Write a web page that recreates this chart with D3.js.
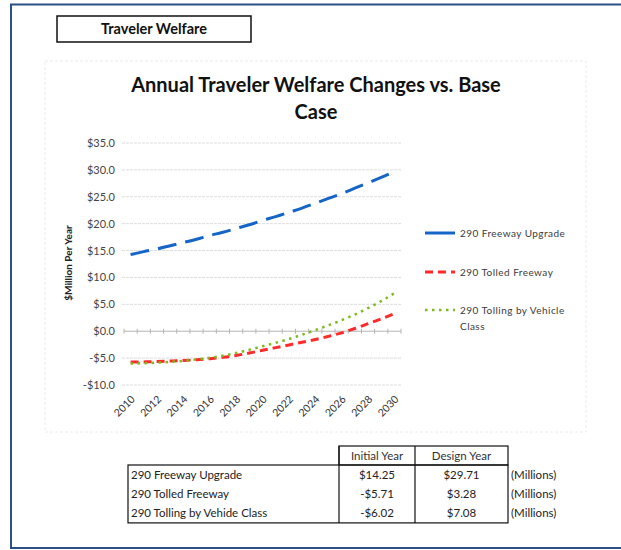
<!DOCTYPE html>
<html>
<head>
<meta charset="utf-8">
<script src="https://cdn.jsdelivr.net/npm/d3@7"></script>
<style>
  body { margin: 0; background: #fff; }
  svg text { font-family: Lato, "Open Sans", sans-serif; }
</style>
</head>
<body>
<div id="chart-area"></div>
<script>
// Data
const years = d3.range(2010, 2031);
const freewayUpgrade = [14.25, 14.8, 15.3, 15.9, 16.5, 17.1, 17.8, 18.4, 19.1, 19.8, 20.6, 21.3, 22.1, 22.9, 23.8, 24.7, 25.6, 26.6, 27.6, 28.6, 29.71];
const tolledFreeway = [-5.71, -5.7, -5.65, -5.55, -5.45, -5.3, -5.1, -4.85, -4.5, -4.05, -3.55, -3.05, -2.55, -2.05, -1.55, -0.95, -0.3, 0.5, 1.4, 2.3, 3.28];
const tollingByClass = [-6.02, -5.95, -5.85, -5.7, -5.5, -5.25, -4.95, -4.55, -4.05, -3.45, -2.8, -2.15, -1.45, -0.65, 0.2, 1.1, 2.05, 3.1, 4.3, 5.6, 7.08];
const yTicks = [-10, -5, 0, 5, 10, 15, 20, 25, 30, 35];
const xLabelYears = [2010, 2012, 2014, 2016, 2018, 2020, 2022, 2024, 2026, 2028, 2030];

const seriesNames = ["290 Freeway Upgrade", "290 Tolled Freeway", "290 Tolling by Vehicle Class"];
const tableRows = ["290 Freeway Upgrade", "290 Tolled Freeway", "290 Tolling by Vehide Class"];
const tableHeaders = ["Initial Year", "Design Year"];
const initialYear = ["$14.25", "-$5.71", "-$6.02"];
const designYear = ["$29.71", "$3.28", "$7.08"];

const series = [
    { name: seriesNames[0], values: freewayUpgrade, color: "#1565c8", dash: "19,9", width: 3 },
    { name: seriesNames[1], values: tolledFreeway, color: "#ff2a2a", dash: "8,5", width: 3 },
    { name: seriesNames[2], values: tollingByClass, color: "#7cbb1e", dash: "2.5,4.5", width: 2.5 }
];

const svg = d3.select("#chart-area")
    .append("svg")
    .attr("width", 621)
    .attr("height", 550);

// Outer frame (right side runs off the page)
svg.append("rect")
    .attr("x", 11).attr("y", 4.5)
    .attr("width", 630).attr("height", 543.5)
    .attr("fill", "none")
    .attr("stroke", "#2c4f85")
    .attr("stroke-width", 2);

// Section label box
svg.append("rect")
    .attr("x", 57).attr("y", 16)
    .attr("width", 194).attr("height", 26)
    .attr("fill", "#fff")
    .attr("stroke", "#111")
    .attr("stroke-width", 1.5);

svg.append("text")
    .attr("x", 154).attr("y", 34)
    .attr("text-anchor", "middle")
    .style("font-size", "14.5px")
    .style("font-weight", "bold")
    .attr("fill", "#111")
    .text("Traveler Welfare");

// Chart area
svg.append("rect")
    .attr("x", 45).attr("y", 61)
    .attr("width", 541).attr("height", 371)
    .attr("fill", "#fff")
    .attr("stroke", "#ececec")
    .attr("stroke-dasharray", "3,2");

// Chart title
const title = svg.append("text")
    .attr("text-anchor", "middle")
    .style("font-size", "20px")
    .style("font-weight", "bold")
    .attr("fill", "#111");
title.append("tspan").attr("x", 316).attr("y", 92).text("Annual Traveler Welfare Changes vs. Base");
title.append("tspan").attr("x", 316).attr("y", 119).text("Case");

// Scales
const xBand = d3.scaleBand()
    .domain(years)
    .range([124, 401]);

const x = d => xBand(d) + xBand.bandwidth() / 2;

const y = d3.scaleLinear()
    .domain([-10, 35])
    .range([385, 143]);

// Gridlines
svg.append("g")
    .selectAll("line")
    .data(yTicks.filter(d => d !== 0))
    .enter().append("line")
    .attr("x1", 122).attr("x2", 401)
    .attr("y1", d => y(d)).attr("y2", d => y(d))
    .attr("stroke", "#dcdcdc")
    .attr("stroke-dasharray", "3,1");

// Y axis labels
const yAxis = svg.append("g")
    .attr("transform", "translate(118,0)")
    .call(d3.axisLeft(y).tickValues(yTicks).tickSize(0).tickPadding(3)
        .tickFormat(d => (d < 0 ? "-$" : "$") + Math.abs(d).toFixed(1)));
yAxis.select(".domain").remove();
yAxis.selectAll("text")
    .style("font-size", "11px")
    .style("font-family", "Lato, sans-serif")
    .attr("fill", "#444");

// Zero line with cross ticks between categories
svg.append("line")
    .attr("x1", 124).attr("x2", 401)
    .attr("y1", y(0)).attr("y2", y(0))
    .attr("stroke", "#b5b5b5");

svg.append("g")
    .selectAll("line")
    .data(years.map(d => xBand(d)).concat([401]))
    .enter().append("line")
    .attr("x1", d => d).attr("x2", d => d)
    .attr("y1", y(0) - 2.5).attr("y2", y(0) + 2.5)
    .attr("stroke", "#b5b5b5");

// X labels
svg.append("g")
    .selectAll("text")
    .data(xLabelYears)
    .enter().append("text")
    .attr("transform", d => `translate(${x(d) + 5},${400}) rotate(-45)`)
    .attr("text-anchor", "end")
    .style("font-size", "10.5px")
    .attr("fill", "#333")
    .text(d => d);

// Y axis title
svg.append("text")
    .attr("transform", "translate(72,263) rotate(-90)")
    .attr("text-anchor", "middle")
    .style("font-size", "10px")
    .style("font-weight", "bold")
    .attr("fill", "#222")
    .text("$Million Per Year");

// Lines
const line = d3.line()
    .x((d, i) => x(years[i]))
    .y(d => y(d))
    .curve(d3.curveMonotoneX);

svg.append("g")
    .selectAll("path")
    .data(series)
    .enter().append("path")
    .attr("d", d => line(d.values))
    .attr("fill", "none")
    .attr("stroke", d => d.color)
    .attr("stroke-width", d => d.width)
    .attr("stroke-dasharray", d => d.dash);

// Legend
const legendY = [233, 272, 310];
const entries = svg.append("g")
    .selectAll("g")
    .data(series)
    .enter().append("g")
    .attr("transform", (d, i) => `translate(425,${legendY[i]})`);

entries.append("line")
    .attr("x1", 0).attr("x2", 30)
    .attr("stroke", d => d.color)
    .attr("stroke-width", d => d.width)
    .attr("stroke-dasharray", (d, i) => i === 0 ? null : d.dash);

entries.append("text")
    .attr("x", 35)
    .attr("dy", "0.35em")
    .style("font-size", "10px")
    .style("letter-spacing", "0.45px")
    .attr("fill", "#3a3a3a")
    .each(function(d, i) {
        const t = d3.select(this);
        if (i === 2) {
            t.append("tspan").attr("x", 35).text("290 Tolling by Vehicle");
            t.append("tspan").attr("x", 35).attr("dy", "1.6em").text("Class");
        } else {
            t.text(d.name);
        }
    });

// Table
const tbl = svg.append("g");
const colX = [128, 339, 415, 508];
const headTop = 446, bodyTop = 465, rowH = 19.3;
const bodyBottom = bodyTop + rowH * 3;

tbl.append("rect")
    .attr("x", colX[1]).attr("y", headTop)
    .attr("width", colX[3] - colX[1]).attr("height", bodyTop - headTop)
    .attr("fill", "none").attr("stroke", "#111").attr("stroke-width", 1.2);

tbl.append("rect")
    .attr("x", colX[0]).attr("y", bodyTop)
    .attr("width", colX[3] - colX[0]).attr("height", bodyBottom - bodyTop)
    .attr("fill", "none").attr("stroke", "#111").attr("stroke-width", 1.2);

tbl.selectAll("line.div")
    .data([colX[1], colX[2]])
    .enter().append("line")
    .attr("class", "div")
    .attr("x1", d => d).attr("x2", d => d)
    .attr("y1", headTop).attr("y2", bodyBottom)
    .attr("stroke", "#111").attr("stroke-width", 1.2);

tbl.selectAll("text.head")
    .data(tableHeaders)
    .enter().append("text")
    .attr("class", "head")
    .attr("x", (d, i) => (colX[i + 1] + colX[i + 2]) / 2)
    .attr("y", (headTop + bodyTop) / 2)
    .attr("dy", "0.35em")
    .attr("text-anchor", "middle")
    .style("font-size", "11.5px")
    .attr("fill", "#333")
    .text(d => d);

const rows = tbl.selectAll("g.row")
    .data(tableRows)
    .enter().append("g")
    .attr("class", "row")
    .attr("transform", (d, i) => `translate(0,${bodyTop + rowH * i + rowH / 2})`);

rows.append("text")
    .attr("x", colX[0] + 3)
    .attr("dy", "0.35em")
    .style("font-size", "11.5px")
    .attr("fill", "#222")
    .text(d => d);

rows.append("text")
    .attr("x", (colX[1] + colX[2]) / 2)
    .attr("dy", "0.35em")
    .attr("text-anchor", "middle")
    .style("font-size", "11.5px")
    .attr("fill", "#222")
    .text((d, i) => initialYear[i]);

rows.append("text")
    .attr("x", (colX[2] + colX[3]) / 2)
    .attr("dy", "0.35em")
    .attr("text-anchor", "middle")
    .style("font-size", "11.5px")
    .attr("fill", "#222")
    .text((d, i) => designYear[i]);

rows.append("text")
    .attr("x", colX[3] + 3)
    .attr("dy", "0.35em")
    .style("font-size", "11.5px")
    .attr("fill", "#222")
    .text("(Millions)");
</script>
</body>
</html>
